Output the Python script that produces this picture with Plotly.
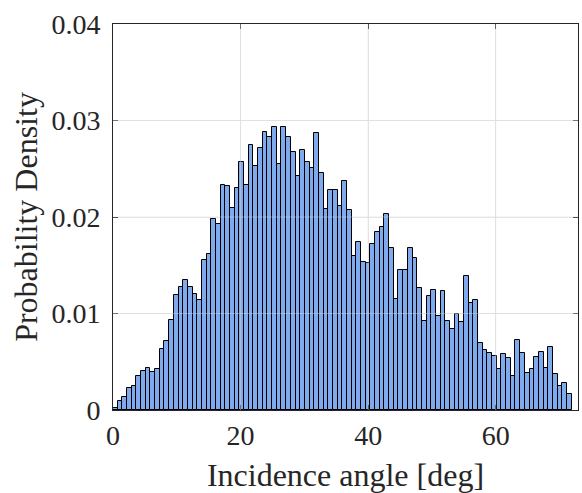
import numpy as np
import plotly.graph_objects as go

# Histogram (probability density) of incidence angle, 98 bins
bin_start_deg = 0.0
bin_end_deg = 71.9
density = [
    0.00024, 0.00095, 0.0013, 0.00225, 0.0025, 0.0035, 0.0040, 0.0044, 0.0039, 0.0042,
    0.0063, 0.0071, 0.0093, 0.0119, 0.0127, 0.0135, 0.0127, 0.0120, 0.0114, 0.0155,
    0.0162, 0.0198, 0.0193, 0.0233, 0.0232, 0.0209, 0.0230, 0.0257, 0.0233, 0.0275,
    0.0253, 0.0272, 0.0288, 0.0283, 0.0293, 0.0255, 0.0293, 0.0283, 0.0267, 0.0242,
    0.0269, 0.0257, 0.0251, 0.0287, 0.0246, 0.0208, 0.0228, 0.0228, 0.0211, 0.0237,
    0.0207, 0.0160, 0.0174, 0.0153, 0.0152, 0.0172, 0.0184, 0.0190, 0.0203, 0.0168,
    0.0115, 0.0145, 0.0145, 0.0168, 0.0158, 0.0126, 0.0092, 0.0118, 0.0124, 0.0097,
    0.0123, 0.0092, 0.0084, 0.0099, 0.0091, 0.0139, 0.0111, 0.0114, 0.0069, 0.0062,
    0.0059, 0.0056, 0.0043, 0.0058, 0.0054, 0.0035, 0.0073, 0.0059, 0.0038, 0.0042,
    0.0055, 0.0060, 0.0044, 0.0065, 0.0037, 0.0025, 0.0028, 0.0017,
]
x_ticks = [0, 20, 40, 60]
y_ticks = [0, 0.01, 0.02, 0.03, 0.04]
y_tick_labels = ["0", "0.01", "0.02", "0.03", "0.04"]

n_bins = len(density)
edges = np.linspace(bin_start_deg, bin_end_deg, n_bins + 1)
centers = 0.5 * (edges[:-1] + edges[1:])
width = edges[1] - edges[0]

FONT = "Liberation Serif, Times New Roman, serif"
TXT = "#262626"

fig = go.Figure(
    go.Bar(
        x=centers,
        y=density,
        width=width,
        marker=dict(color="#80AAEE", line=dict(color="#000000", width=1)),
        showlegend=False,
    )
)

# light grid drawn over the bars (as in the original)
for xv in x_ticks[1:]:
    fig.add_shape(type="line", xref="x", yref="paper", x0=xv, x1=xv, y0=0, y1=1,
                  line=dict(color="rgba(215,215,215,0.45)", width=1), layer="above")
for yv in y_ticks[1:-1]:
    fig.add_shape(type="line", xref="paper", yref="y", x0=0, x1=1, y0=yv, y1=yv,
                  line=dict(color="rgba(215,215,215,0.45)", width=1), layer="above")

fig.update_layout(
    width=582,
    height=493,
    margin=dict(l=113, r=4, t=24, b=83),
    paper_bgcolor="white",
    plot_bgcolor="white",
    bargap=0,
    font=dict(family=FONT, color=TXT, size=28),
    xaxis=dict(
        range=[0, 72.9],
        tickvals=x_ticks,
        ticktext=[str(v) for v in x_ticks],
        showgrid=True,
        gridcolor="#E8E8E8",
        gridwidth=1,
        zeroline=False,
        showline=True,
        linecolor=TXT,
        linewidth=1,
        mirror="ticks",
        ticks="inside",
        ticklen=5,
        tickcolor=TXT,
        tickfont=dict(family=FONT, size=28, color=TXT),
        title=dict(text="Incidence angle [deg]", font=dict(family=FONT, size=32, color=TXT), standoff=14),
    ),
    yaxis=dict(
        range=[0, 0.04],
        tickvals=y_ticks,
        ticktext=y_tick_labels,
        showgrid=True,
        gridcolor="#E8E8E8",
        gridwidth=1,
        zeroline=False,
        showline=True,
        linecolor=TXT,
        linewidth=1,
        mirror="ticks",
        ticks="inside",
        ticklen=5,
        tickcolor=TXT,
        tickfont=dict(family=FONT, size=28, color=TXT),
        ticklabelstandoff=6,
        title=dict(text="Probability Density", font=dict(family=FONT, size=32, color=TXT), standoff=4),
    ),
)

fig.write_html("out.html")
